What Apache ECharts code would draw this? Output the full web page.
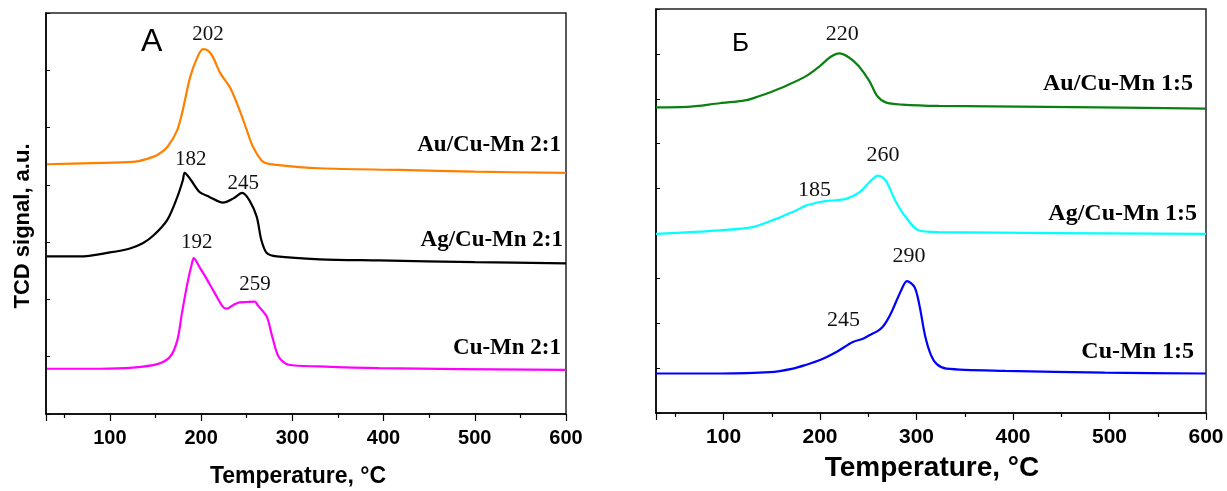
<!DOCTYPE html>
<html>
<head>
<meta charset="utf-8">
<script src="https://cdn.jsdelivr.net/npm/echarts@6/dist/echarts.min.js"></script>
<style>
  html, body { margin: 0; padding: 0; background: #fff; }
  #chart { width: 1227px; height: 491px; }
</style>
</head>
<body>
<div id="chart"></div>
<script>
// ---- Panel A: TPR profiles, Cu-Mn 2:1 family ----
const tempAuA = [31, 80, 125, 140, 152, 163, 174, 180, 188, 196, 202, 208, 213, 221, 232, 243, 250, 257, 268, 283, 330, 418, 500, 600];
const sigAuA  = [4.36, 4.38, 4.40, 4.45, 4.52, 4.66, 4.96, 5.31, 5.88, 6.23, 6.37, 6.34, 6.23, 5.95, 5.69, 5.27, 4.96, 4.66, 4.40, 4.35, 4.29, 4.26, 4.23, 4.21];
const peaksAuA = [202];

const tempAgA = [31, 67, 100, 122, 136, 148, 163, 174, 180, 182, 189, 198, 209, 224, 235, 245, 253, 261, 266, 272, 283, 330, 395, 500, 600];
const sigAgA  = [2.75, 2.75, 2.82, 2.89, 2.98, 3.12, 3.39, 3.79, 4.08, 4.21, 4.08, 3.88, 3.79, 3.69, 3.76, 3.86, 3.73, 3.44, 3.04, 2.81, 2.75, 2.70, 2.68, 2.65, 2.63];
const peaksAgA = [182, 245];

const tempCuA = [31, 89, 125, 152, 166, 174, 179, 185, 190, 192, 198, 205, 215, 224, 228, 235, 242, 250, 259, 262, 272, 278, 285, 296, 330, 395, 600];
const sigCuA  = [0.79, 0.79, 0.81, 0.87, 1.00, 1.29, 1.76, 2.28, 2.63, 2.72, 2.57, 2.39, 2.11, 1.87, 1.84, 1.90, 1.95, 1.955, 1.96, 1.90, 1.70, 1.35, 1.00, 0.86, 0.83, 0.80, 0.77];
const peaksCuA = [192, 259];

// ---- Panel Б: TPR profiles, Cu-Mn 1:5 family ----
const tempAuB = [30, 62, 96, 110, 124, 136, 148, 165, 186, 200, 210, 220, 230, 240, 251, 259, 268, 285, 323, 489, 600];
const sigAuB  = [6.81, 6.82, 6.90, 6.93, 6.97, 7.05, 7.14, 7.29, 7.51, 7.73, 7.92, 8.01, 7.92, 7.73, 7.40, 7.07, 6.92, 6.87, 6.84, 6.81, 6.78];
const peaksAuB = [220];

const tempAgB = [30, 96, 130, 155, 165, 175, 185, 192, 200, 210, 227, 241, 251, 260, 268, 278, 289, 302, 323, 600];
const sigAgB  = [3.99, 4.07, 4.14, 4.33, 4.42, 4.51, 4.62, 4.66, 4.70, 4.73, 4.77, 4.92, 5.14, 5.29, 5.18, 4.73, 4.36, 4.07, 4.03, 3.99];
const peaksAgB = [185, 260];

const tempCuB = [30, 96, 148, 172, 185, 200, 217, 234, 245, 251, 260, 265, 270, 275, 284, 290, 298, 303, 309, 315, 321, 331, 392, 495, 600];
const sigCuB  = [0.88, 0.88, 0.91, 0.99, 1.07, 1.18, 1.36, 1.58, 1.66, 1.73, 1.83, 1.92, 2.08, 2.29, 2.73, 2.94, 2.80, 2.40, 1.71, 1.29, 1.09, 0.99, 0.94, 0.90, 0.88];
const peaksCuB = [245, 290];

// Label placement (pixel offsets of peak / sample labels)
const peakOffsets = {
  AuA: [[5, -15]], AgA: [[6, -13], [1, -9]], CuA: [[3, -16], [0, -17]],
  AuB: [[3, -19]], AgB: [[9, -15], [5, -20]], CuB: [[-20, -18], [2, -25]]
};
const nameOffsets = {
  AuA: [-5, -28], AgA: [-3, -23], CuA: [-5, -22],
  AuB: [-13, -25], AgB: [-9, -20], CuB: [-12, -22]
};

function interp(xs, ys, x) {
  for (let i = 1; i < xs.length; i++) {
    if (x <= xs[i]) {
      const t = (x - xs[i - 1]) / (xs[i] - xs[i - 1]);
      return ys[i - 1] + t * (ys[i] - ys[i - 1]);
    }
  }
  return ys[ys.length - 1];
}

const SANS = '"Liberation Sans", Arial, sans-serif';
const SERIF = '"Liberation Serif", "Times New Roman", serif';

function curve(key, name, temps, sigs, peaks, color, gridIdx, peakFont, nameFont) {
  return {
    type: 'line',
    name: name,
    xAxisIndex: gridIdx,
    yAxisIndex: gridIdx,
    data: temps.map((t, i) => [t, sigs[i]]),
    showSymbol: false,
    smooth: 0.3,
    lineStyle: { color: color, width: 2.2 },
    itemStyle: { color: color },
    endLabel: {
      show: true,
      formatter: name,
      distance: 0,
      align: 'right',
      verticalAlign: 'middle',
      offset: nameOffsets[key],
      fontFamily: SERIF,
      fontWeight: 'bold',
      fontSize: nameFont,
      color: '#000'
    },
    markPoint: {
      symbol: 'circle',
      symbolSize: 0,
      silent: true,
      label: {
        show: true,
        position: 'inside',
        fontFamily: SERIF,
        fontSize: peakFont,
        color: '#111',
        formatter: p => String(p.value)
      },
      data: peaks.map((t, i) => ({
        coord: [t, interp(temps, sigs, t)],
        value: t,
        label: { offset: peakOffsets[key][i] }
      }))
    }
  };
}

function xAxisFor(gridIdx, fontSize) {
  return {
    type: 'value',
    gridIndex: gridIdx,
    min: 30,
    max: 600,
    splitNumber: 6,
    axisLine: { show: true, lineStyle: { color: '#000', width: 1.5 } },
    axisTick: { show: true, inside: false, length: 7, lineStyle: { color: '#000', width: 1.2 } },
    minorTick: { show: true, splitNumber: 2, length: 4, lineStyle: { color: '#000', width: 1.2 } },
    splitLine: { show: false },
    minorSplitLine: { show: false },
    axisLabel: {
      showMinLabel: false,
      margin: 14,
      fontFamily: SANS,
      fontWeight: 'bold',
      fontSize: fontSize,
      color: '#000'
    }
  };
}

function yAxisFor(gridIdx, max) {
  return {
    type: 'value',
    gridIndex: gridIdx,
    min: 0,
    max: max,
    interval: 1,
    axisLine: { show: true, lineStyle: { color: '#000', width: 1.5 } },
    axisTick: { show: true, inside: true, length: 4, lineStyle: { color: '#000', width: 1 } },
    axisLabel: { show: false },
    splitLine: { show: false }
  };
}

const chart = echarts.init(document.getElementById('chart'), null, { renderer: 'canvas' });

chart.setOption({
  animation: false,
  backgroundColor: '#fff',
  grid: [
    { left: 46, top: 13, right: 661, bottom: 77, show: true, borderColor: '#222', borderWidth: 1.5 },
    { left: 656, top: 9, right: 21, bottom: 78, show: true, borderColor: '#222', borderWidth: 1.5 }
  ],
  xAxis: [xAxisFor(0, 20), xAxisFor(1, 21)],
  yAxis: [yAxisFor(0, 7), yAxisFor(1, 9)],
  series: [
    curve('AuA', 'Au/Cu-Mn 2:1', tempAuA, sigAuA, peaksAuA, '#FF8000', 0, 21, 23),
    curve('AgA', 'Ag/Cu-Mn 2:1', tempAgA, sigAgA, peaksAgA, '#000000', 0, 21, 23),
    curve('CuA', 'Cu-Mn 2:1', tempCuA, sigCuA, peaksCuA, '#FF00FF', 0, 21, 23),
    curve('AuB', 'Au/Cu-Mn 1:5', tempAuB, sigAuB, peaksAuB, '#0A8010', 1, 22, 24),
    curve('AgB', 'Ag/Cu-Mn 1:5', tempAgB, sigAgB, peaksAgB, '#00FFFF', 1, 22, 24),
    curve('CuB', 'Cu-Mn 1:5', tempCuB, sigCuB, peaksCuB, '#0000FF', 1, 22, 24)
  ],
  graphic: [
    {
      type: 'text', left: 141, top: 26,
      style: { text: 'A', fontFamily: SANS, fontSize: 32, fill: '#000' }
    },
    {
      type: 'text', left: 732, top: 31,
      style: { text: 'Б', fontFamily: SANS, fontSize: 26, fill: '#000' }
    },
    {
      type: 'text', x: 23, y: 226, rotation: Math.PI / 2,
      style: {
        text: 'TCD signal, a.u.', fontFamily: SANS, fontWeight: 'bold', fontSize: 22,
        fill: '#000', align: 'center', verticalAlign: 'middle'
      }
    },
    {
      type: 'text', x: 298, y: 477,
      style: {
        text: 'Temperature, °C', fontFamily: SANS, fontWeight: 'bold', fontSize: 23,
        fill: '#000', align: 'center', verticalAlign: 'middle'
      }
    },
    {
      type: 'text', x: 932, y: 468,
      style: {
        text: 'Temperature, °C', fontFamily: SANS, fontWeight: 'bold', fontSize: 28,
        fill: '#000', align: 'center', verticalAlign: 'middle'
      }
    }
  ]
});
</script>
</body>
</html>
